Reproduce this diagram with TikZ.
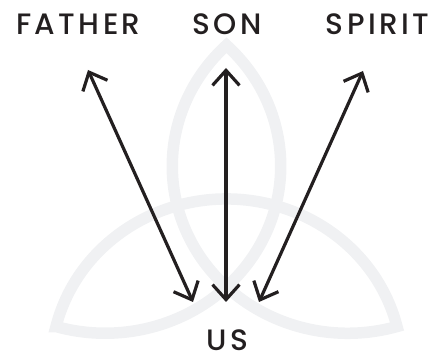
\documentclass[tikz,border=0pt]{standalone}
\usepackage{fontspec}
\usepackage{tikz}
\usetikzlibrary{arrows.meta}
\newfontfamily\trinityfont{Poppins Medium}[LetterSpace=11.5]
\definecolor{cInk}{RGB}{35,31,32}
\definecolor{cKnot}{RGB}{240,241,243}

\begin{document}
\begin{tikzpicture}[
    x=1pt, y=1pt,
    lbl/.style={font=\trinityfont\fontsize{29.5}{31}\selectfont,text=cInk,inner sep=0pt,anchor=base},
    bond/.style={<->,line width=3.2pt,cInk},
    knot/.style={line width=11.5pt,cKnot,line join=miter},
    >={Straight Barb[length=15pt,width=27pt]}
  ]
  \useasboundingbox (0,0) rectangle (432,358);
  % triquetra behind the arrows
  \begin{scope}[shift={(226.5,125.3)}, yscale=0.9526]
    \draw[knot] (-170.5,-98.5) arc[start angle=166.29,end angle=13.71,radius=175.5]
      arc[start angle=286.29,end angle=133.71,radius=175.5]
      arc[start angle=46.29,end angle=-106.29,radius=175.5] -- cycle;
  \end{scope}

  \node[lbl] (father) at (78.5,323) {FATHER};
  \node[lbl] (son)    at (227,323)  {SON};
  \node[lbl] (spirit) at (377.5,323) {SPIRIT};
  \node[lbl] (us)     at (227.5,7.5)  {US};

  \coordinate (father-top) at (88,288);
  \coordinate (son-top)    at (226,290);
  \coordinate (spirit-top) at (363,287);
  \coordinate (us-left)    at (193,56);
  \coordinate (us-mid)     at (226,56);
  \coordinate (us-right)   at (259,56);

  \draw[bond] (father-top) -- (us-left);
  \draw[bond] (son-top) -- (us-mid);
  \draw[bond] (spirit-top) -- (us-right);
\end{tikzpicture}
\end{document}
